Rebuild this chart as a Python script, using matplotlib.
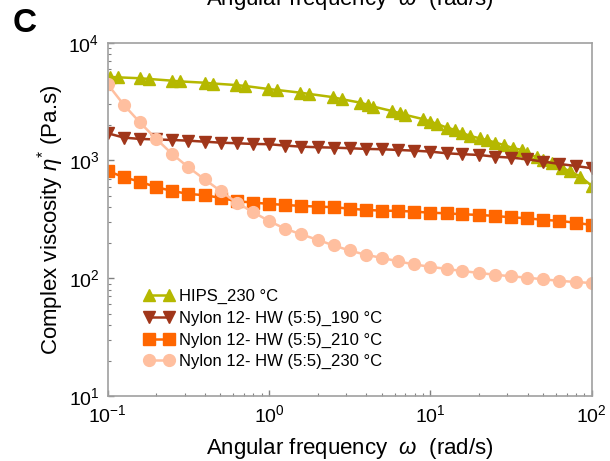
import matplotlib
matplotlib.use("Agg")
import matplotlib.pyplot as plt
from matplotlib.ticker import LogLocator, NullFormatter

plt.rcParams["font.family"] = ["Liberation Sans", "DejaVu Sans"]
plt.rcParams["mathtext.fontset"] = "custom"
plt.rcParams["mathtext.rm"] = "Liberation Sans"
plt.rcParams["mathtext.it"] = "Liberation Sans:italic"
plt.rcParams["mathtext.bf"] = "Liberation Sans:bold"

# frequency grid for the nylon sweeps (rad/s)
freq = [0.1, 0.126, 0.158, 0.2, 0.251, 0.316, 0.398, 0.501, 0.631, 0.794,
        1.0, 1.26, 1.58, 2.0, 2.51, 3.16, 3.98, 5.01, 6.31, 7.94,
        10.0, 12.6, 15.8, 20.0, 25.1, 31.6, 39.8, 50.1, 63.1, 79.4, 100.0]

nylon_190 = [1702, 1563, 1524, 1508, 1493, 1472, 1444, 1416, 1400, 1381,
             1374, 1337, 1310, 1295, 1285, 1270, 1253, 1245, 1228, 1211,
             1189, 1151, 1130, 1114, 1077, 1057, 1024, 977, 934, 898, 859]

nylon_210 = [815, 720, 661, 593, 551, 520, 507, 481, 451, 439,
             428, 419, 411, 406, 401, 390, 380, 375, 373, 368,
             360, 356, 349, 345, 338, 329, 323, 313, 307, 296, 283]

nylon_230 = [4436, 2958, 2109, 1521, 1135, 875, 692, 550, 438, 365,
             306, 263, 236, 212, 190, 172, 158, 149, 139, 131,
             125, 120, 115, 111, 107, 104, 101, 98, 95, 93, 91]

# HIPS sweep has its own frequency points
hips_freq = [0.103, 0.116, 0.158, 0.181, 0.249, 0.281, 0.401, 0.452, 0.624, 0.71,
             0.991, 1.117, 1.556, 1.778, 2.506, 2.825, 3.67, 4.13, 4.42, 5.77,
             6.49, 6.97, 9.06, 9.96, 10.96, 12.65, 14.2, 15.7, 17.6, 20.3,
             22.4, 25.2, 28.4, 32.7, 36.9, 39.6, 45.7, 50.2, 56.6, 65.3,
             73.5, 84.8, 100.0]
hips = [5120, 5080, 4990, 4920, 4760, 4690, 4570, 4500, 4370, 4290,
        4045, 3970, 3765, 3670, 3443, 3310, 3100, 2960, 2870, 2630,
        2520, 2440, 2240, 2140, 2045, 1900, 1820, 1720, 1615, 1540,
        1490, 1420, 1355, 1270, 1230, 1155, 1065, 1010, 950, 865,
        810, 730, 610]

labels = ["HIPS_230 \u00b0C",
          "Nylon 12- HW (5:5)_190 \u00b0C",
          "Nylon 12- HW (5:5)_210 \u00b0C",
          "Nylon 12- HW (5:5)_230 \u00b0C"]

fig = plt.figure(figsize=(6.1, 4.61), dpi=100)
ax = fig.add_axes([0.1766, 0.141, 0.7934, 0.7664])

ax.plot(hips_freq, hips, color="#b5b800", marker="^", ms=9, lw=1.8, label=labels[0])
ax.plot(freq, nylon_190, color="#a0361a", marker="v", ms=9, lw=1.8, label=labels[1])
ax.plot(freq, nylon_210, color="#ff6600", marker="s", ms=8, lw=1.8, label=labels[2])
ax.plot(freq, nylon_230, color="#ffbf9f", marker="o", ms=8.5, lw=1.8, label=labels[3])

ax.set_xscale("log")
ax.set_yscale("log")
ax.set_xlim(0.1, 100)
ax.set_ylim(10, 10000)

ax.xaxis.set_minor_locator(LogLocator(base=10, subs=range(2, 10)))
ax.yaxis.set_minor_locator(LogLocator(base=10, subs=range(2, 10)))
ax.xaxis.set_minor_formatter(NullFormatter())
ax.yaxis.set_minor_formatter(NullFormatter())

for s in ax.spines.values():
    s.set_color("#a0a0a0")
    s.set_linewidth(1.2)
ax.tick_params(which="both", direction="in", color="#808080", labelsize=14,
               top=False, right=False)
ax.tick_params(which="major", length=4, width=1, pad=6)
ax.tick_params(which="minor", length=2.5, width=0.8)

ax.set_xlabel("Angular frequency  $\\mathit{\\omega}$  (rad/s)", fontsize=16, labelpad=7)
ax.set_ylabel("Complex viscosity $\\mathit{\\eta}^{*}$ (Pa.s)", fontsize=16, labelpad=2)

ax.legend(loc="upper left", bbox_to_anchor=(0.062, 0.322), frameon=False, fontsize=12,
          numpoints=2, handlelength=1.8, handletextpad=0.3, labelspacing=0.4,
          borderaxespad=0)

# remnant of the panel above and the panel letter
fig.text(0.574, 0.99, "Angular frequency  $\\mathit{\\omega}$  (rad/s)", fontsize=16,
         ha="center", va="baseline")
fig.text(0.04, 0.95, "C", fontsize=24, fontweight="bold", ha="center", va="center")

fig.savefig("out.png", dpi=100)
